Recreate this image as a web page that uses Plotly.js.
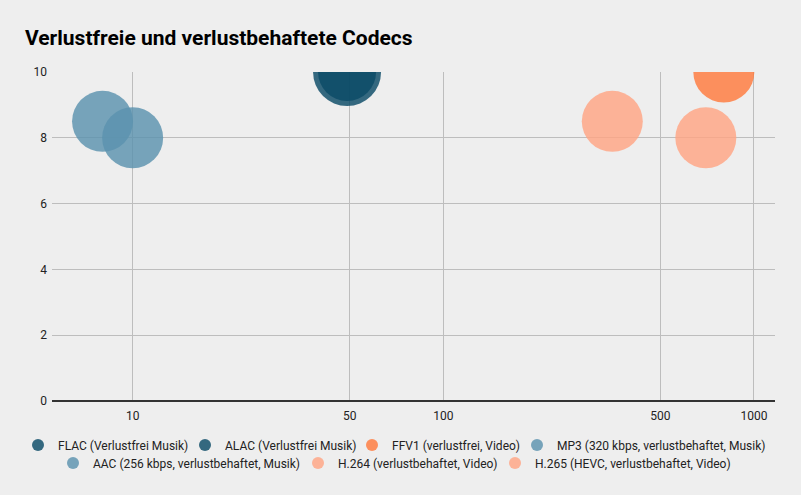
<!DOCTYPE html>
<html>
<head>
<meta charset="utf-8">
<script src="https://cdn.plot.ly/plotly-3.0.1.min.js"></script>
<style>html,body{margin:0;padding:0;background:#eeeeee;}#chart{width:801px;height:495px;}</style>
</head>
<body>
<div id="chart"></div>
<script>
// Data
const seriesNames = [
  "FLAC (Verlustfrei Musik)",
  "ALAC (Verlustfrei Musik)",
  "FFV1 (verlustfrei, Video)",
  "MP3 (320 kbps, verlustbehaftet, Musik)",
  "AAC (256 kbps, verlustbehaftet, Musik)",
  "H.264 (verlustbehaftet, Video)",
  "H.265 (HEVC, verlustbehaftet, Video)"
];
const xValues = [49, 49, 800, 8, 10, 350, 700];
const yValues = [10, 10, 10, 8.5, 8, 8.5, 8];
const bubbleSizes = [68, 58, 61, 61, 61, 61, 61];
const seriesColors = ["#0b4a66", "#0b4a66", "#ff7a3d", "#5b93ae", "#5b93ae", "#ffa584", "#ffa584"];
const xTickVals = [10, 50, 100, 500, 1000];
const xTickText = ["10", "50", "100", "500", "1000"];
const yTickVals = [0, 2, 4, 6, 8, 10];

// legend entry placement (container px): text start x, row centre y
const legendTextX = [58, 225, 392, 557, 93, 338, 535];
const legendRowY = [445, 445, 445, 445, 463, 463, 463];

const W = 801, H = 495;
const legendIds = seriesNames.map((_, i) => i === 0 ? "legend" : "legend" + (i + 1));

const traces = seriesNames.map((name, i) => ({
  type: "scatter",
  mode: "markers",
  name: name,
  x: [xValues[i]],
  y: [yValues[i]],
  legend: legendIds[i],
  marker: {
    size: [bubbleSizes[i]],
    sizemode: "diameter",
    color: seriesColors[i],
    opacity: 0.82,
    line: {width: 0}
  }
}));

const layout = {
  width: W,
  height: H,
  paper_bgcolor: "#eeeeee",
  plot_bgcolor: "#eeeeee",
  margin: {l: 52, r: 26, t: 72, b: 94},
  title: {
    text: "<b>Verlustfreie und verlustbehaftete Codecs</b>",
    x: 25 / W, xanchor: "left", xref: "container",
    y: 1 - 38 / H, yanchor: "middle", yref: "container",
    font: {family: "Roboto, Arial, sans-serif", size: 21, color: "#000000"}
  },
  xaxis: {
    type: "log",
    range: [Math.log10(5.5), Math.log10(1169)],
    tickvals: xTickVals,
    ticktext: xTickText,
    showgrid: true,
    gridcolor: "#bdbdbd",
    gridwidth: 1,
    zeroline: false,
    showline: false,
    ticks: "outside",
    ticklen: 4,
    tickcolor: "rgba(0,0,0,0)",
    tickfont: {family: "Roboto, Arial, sans-serif", size: 12, color: "#222222"}
  },
  yaxis: {
    range: [0, 10],
    tickvals: yTickVals,
    showgrid: true,
    gridcolor: "#bdbdbd",
    gridwidth: 1,
    zeroline: true,
    zerolinecolor: "#333333",
    zerolinewidth: 1.3,
    showline: false,
    ticks: "",
    ticklabelstandoff: 4,
    tickfont: {family: "Roboto, Arial, sans-serif", size: 12, color: "#222222"}
  },
  showlegend: true
};

legendIds.forEach((id, i) => {
  layout[id] = {
    orientation: "h",
    xref: "container",
    yref: "container",
    x: (legendTextX[i] - 40) / W,
    xanchor: "left",
    y: 1 - legendRowY[i] / H,
    yanchor: "middle",
    itemsizing: "constant",
    itemwidth: 30,
    bgcolor: "rgba(0,0,0,0)",
    borderwidth: 0,
    font: {family: "Roboto, Arial, sans-serif", size: 12, color: "#222222"}
  };
});

Plotly.newPlot("chart", traces, layout, {displayModeBar: false, staticPlot: true});
</script>
</body>
</html>
